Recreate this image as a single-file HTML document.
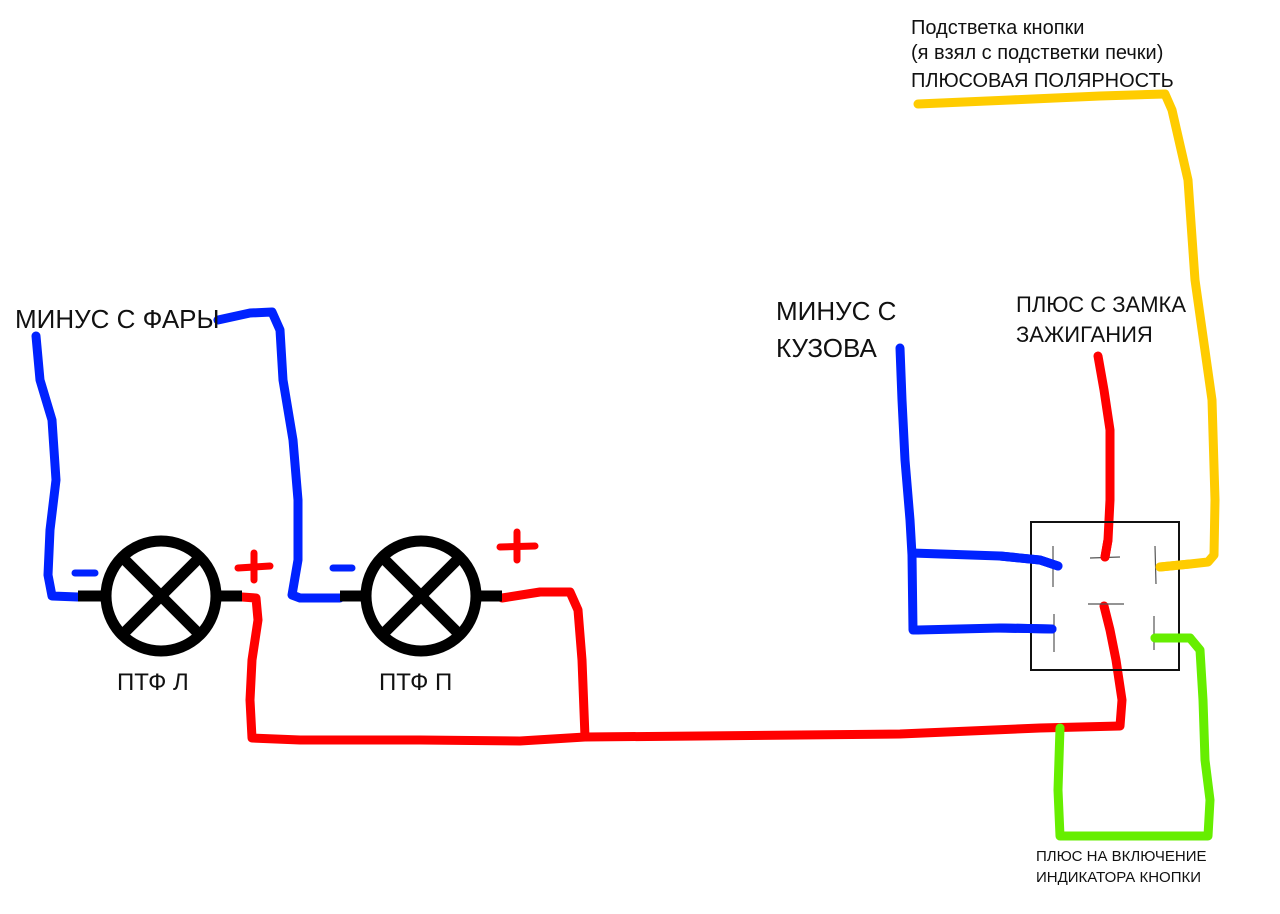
<!DOCTYPE html>
<html><head><meta charset="utf-8"><style>
html,body{margin:0;padding:0;background:#fff;}
svg{display:block;}
text{font-family:"Liberation Sans","DejaVu Sans",sans-serif;fill:#111;}
</style></head><body>
<svg width="1280" height="914" viewBox="0 0 1280 914" xmlns="http://www.w3.org/2000/svg">
<g fill="none" stroke-linecap="round" stroke-linejoin="round">
<!-- yellow -->
<polyline stroke="#ffcc00" stroke-width="9" points="918,104 1010,100 1100,96 1165,94 1172,110 1188,180 1195,280 1212,400 1215,500 1214,555 1208,562 1190,564 1160,567"/>
<!-- blue left -->
<polyline stroke="#0022ff" stroke-width="9" points="36,336 40,380 52,420 56,480 50,530 48,575 52,596 78,597"/>
<polyline stroke="#0022ff" stroke-width="9" points="218,320 250,313 272,312 280,330 283,380 293,440 298,500 298,560 292,595 300,598 340,598"/>
<polyline stroke="#0022ff" stroke-width="7" points="75,573 95,573"/>
<polyline stroke="#0022ff" stroke-width="7" points="333,568 352,568"/>
<!-- blue right -->
<polyline stroke="#0022ff" stroke-width="9" points="900,348 902,400 905,460 910,520 912,555 913,630 918,630 1000,628 1052,629"/>
<polyline stroke="#0022ff" stroke-width="9" points="912,553 1000,556 1040,560 1058,566"/>
<!-- red -->
<polyline stroke="#ff0000" stroke-width="9" points="242,597 256,598 258,620 252,660 250,700 252,738 300,740 420,740 520,741 585,737 700,736 900,734 1040,728 1120,726 1122,700 1116,660 1110,630 1104,606"/>
<polyline stroke="#ff0000" stroke-width="9" points="502,598 540,592 570,592 578,610 582,660 585,737"/>
<polyline stroke="#ff0000" stroke-width="9" points="1098,356 1104,390 1110,430 1110,500 1108,540 1105,557"/>
<polyline stroke="#ff0000" stroke-width="7" points="238,568 270,566"/>
<polyline stroke="#ff0000" stroke-width="7" points="254,553 254,580"/>
<polyline stroke="#ff0000" stroke-width="7" points="500,547 535,546"/>
<polyline stroke="#ff0000" stroke-width="7" points="517,532 517,560"/>
<!-- green -->
<polyline stroke="#66ee00" stroke-width="9" points="1155,638 1190,638 1200,650 1203,700 1205,760 1210,800 1208,836 1150,836 1060,836 1058,790 1060,728"/>
</g>
<!-- lamps -->
<g fill="none" stroke="#000" stroke-width="11">
<circle cx="161" cy="596" r="55"/>
<line x1="122" y1="557" x2="200" y2="635"/>
<line x1="200" y1="557" x2="122" y2="635"/>
<line x1="78" y1="596" x2="106" y2="596"/>
<line x1="216" y1="596" x2="242" y2="596"/>
<circle cx="421" cy="596" r="55"/>
<line x1="382" y1="557" x2="460" y2="635"/>
<line x1="460" y1="557" x2="382" y2="635"/>
<line x1="340" y1="596" x2="366" y2="596"/>
<line x1="476" y1="596" x2="502" y2="596"/>
</g>
<!-- relay box -->
<rect x="1031" y="522" width="148" height="148" fill="none" stroke="#111" stroke-width="2"/>
<g stroke="#555" stroke-width="1.2">
<line x1="1053" y1="546" x2="1053" y2="587"/>
<line x1="1090" y1="558" x2="1120" y2="557"/>
<line x1="1155" y1="546" x2="1156" y2="584"/>
<line x1="1088" y1="604" x2="1124" y2="604"/>
<line x1="1054" y1="614" x2="1054" y2="652"/>
<line x1="1154" y1="616" x2="1154" y2="650"/>
</g>
<g fill="none" stroke-linecap="round">
<polyline stroke="#0022ff" stroke-width="9" points="1000,556 1040,560 1058,566"/>
<polyline stroke="#0022ff" stroke-width="9" points="1000,628 1052,629"/>
<polyline stroke="#ff0000" stroke-width="9" points="1108,540 1105,557"/>
<polyline stroke="#ffcc00" stroke-width="9" points="1190,564 1160,567"/>
<polyline stroke="#66ee00" stroke-width="9" points="1155,638 1190,638"/>
</g>
<!-- text -->
<text x="911" y="34" font-size="20">Подстветка кнопки</text>
<text x="911" y="59" font-size="20">(я взял с подстветки печки)</text>
<text x="911" y="87" font-size="20">ПЛЮСОВАЯ ПОЛЯРНОСТЬ</text>
<text x="15" y="328" font-size="26">МИНУС С ФАРЫ</text>
<text x="776" y="320" font-size="26">МИНУС С</text>
<text x="776" y="357" font-size="26">КУЗОВА</text>
<text x="1016" y="312" font-size="22">ПЛЮС С ЗАМКА</text>
<text x="1016" y="342" font-size="22">ЗАЖИГАНИЯ</text>
<text x="117" y="690" font-size="24">ПТФ Л</text>
<text x="379" y="690" font-size="24">ПТФ П</text>
<text x="1036" y="861" font-size="15">ПЛЮС НА ВКЛЮЧЕНИЕ</text>
<text x="1036" y="882" font-size="15">ИНДИКАТОРА КНОПКИ</text>
</svg>
</body></html>
